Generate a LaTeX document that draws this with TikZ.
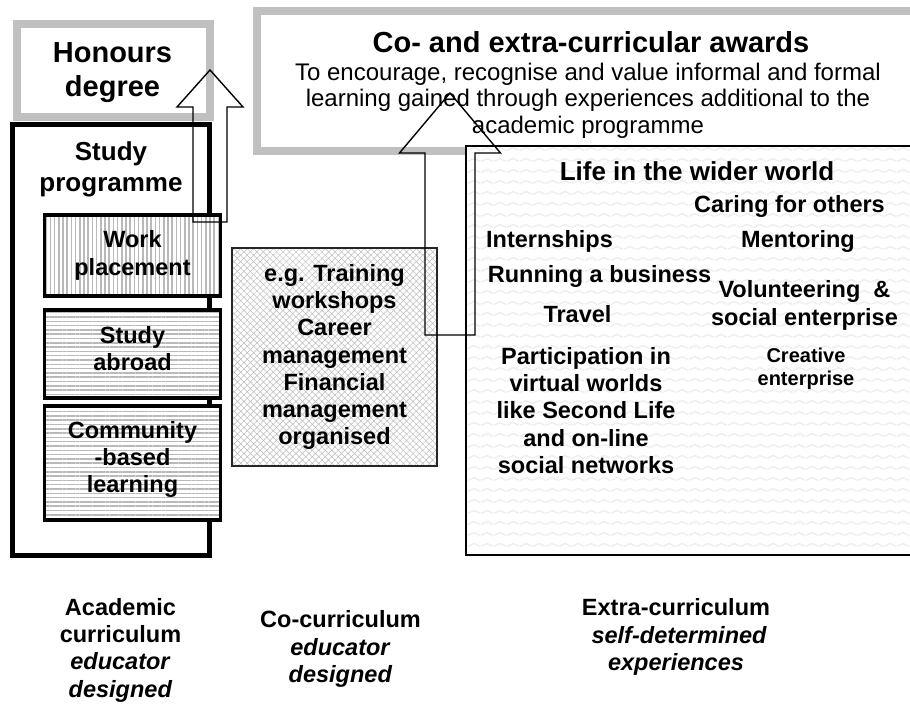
\documentclass[tikz,border=0pt]{standalone}
\usepackage{fontspec}
\setmainfont{Liberation Sans}
\usepackage{tikz}
\usetikzlibrary{calc, patterns, patterns.meta}

\definecolor{framegrey}{RGB}{192,192,192}
\definecolor{stripegrey}{RGB}{185,185,185}
\definecolor{hatchgrey}{RGB}{190,190,190}
\definecolor{wavegrey}{RGB}{238,238,238}

\pgfdeclarepatternformonly{wavy}{\pgfqpoint{0pt}{0pt}}{\pgfqpoint{13pt}{11pt}}{\pgfqpoint{13pt}{11pt}}{%
    \pgfsetlinewidth{1.5pt}
    \pgfpathmoveto{\pgfqpoint{0pt}{4pt}}
    \pgfpathlineto{\pgfqpoint{6.5pt}{7pt}}
    \pgfpathlineto{\pgfqpoint{13pt}{4pt}}
    \pgfusepath{stroke}}

\begin{document}
\begin{tikzpicture}[x = 1pt, y = -1pt,
                    grey_frame/.style = {draw = framegrey, line width = 8pt, fill = white},
                    prog_frame/.style = {draw = black, line width = 5pt},
                    sub_box/.style = {draw = black, line width = 3.5pt, preaction = {fill = white}},
                    vstripes/.style = {pattern = {Lines[angle = 90, distance = 4.2pt, line width = 1.5pt]}, pattern color = stripegrey},
                    hstripes/.style = {pattern = {Lines[angle = 0, distance = 4.3pt, line width = 1.5pt]}, pattern color = stripegrey},
                    hatch_box/.style = {draw = black!85, line width = 1.5pt, preaction = {fill = white}, pattern = {Hatch[angle = 45, distance = 4.6pt, line width = 0.5pt]}, pattern color = hatchgrey},
                    wave_box/.style = {draw = black, line width = 1.5pt, preaction = {fill = white}, pattern = wavy, pattern color = wavegrey},
                    block_arrow/.style = {draw = black, line width = 1.4pt, line join = miter},
                    head/.style = {align = center, inner sep = 0pt, font = \fontsize{29}{34}\selectfont\bfseries},
                    prog/.style = {align = center, inner sep = 0pt, font = \fontsize{26}{31}\selectfont\bfseries},
                    body/.style = {align = center, inner sep = 0pt, font = \fontsize{23.5}{27.3}\selectfont\bfseries},
                    small/.style = {align = center, inner sep = 0pt, font = \fontsize{20}{23}\selectfont\bfseries},
                    sub/.style = {align = center, inner sep = 0pt, font = \fontsize{24}{26.5}\selectfont}]
                    \useasboundingbox (0, 0) rectangle (910, 704);
                    \clip (0, 0) rectangle (910, 704);

                    \coordinate (hon_tl) at (17, 23.5);
                    \coordinate (hon_br) at (209.5, 116.5);
                    \coordinate (awd_tl) at (257, 11);
                    \coordinate (awd_br) at (925, 151);
                    \coordinate (prog_tl) at (12.5, 124.5);
                    \coordinate (prog_br) at (209, 555.5);
                    \coordinate (cocur_tl) at (232, 248);
                    \coordinate (cocur_br) at (437, 466);
                    \coordinate (life_tl) at (466, 146);
                    \coordinate (life_br) at (935, 555);

                    \draw[grey_frame] (awd_tl) rectangle (awd_br);
                    \draw[grey_frame] (hon_tl) rectangle (hon_br);
                    \draw[prog_frame] (prog_tl) rectangle (prog_br);

                    \draw[sub_box, vstripes] (44.5, 215) rectangle (220.5, 296);
                    \draw[sub_box, hstripes] (44.5, 310) rectangle (220.5, 398);
                    \draw[sub_box, hstripes] (44.5, 406) rectangle (220.5, 520);
                    \draw[hatch_box] (cocur_tl) rectangle (cocur_br);
                    \draw[wave_box] (life_tl) rectangle (life_br);

                    \node[head] (hon_txt) at (112.5, 72.7) {Honours\\degree};
                    \node[prog] (prog_txt) at (111, 169.8) {Study\\programme};
                    \node[body] (work_txt) at (132.5, 255.5) {Work\\placement};
                    \node[body] (abroad_txt) at (132.5, 348.5) {Study\\abroad};
                    \node[body] (comm_txt) at (132.5, 459.5) {Community\\-based\\learning};
                    \node[body] (cocur_txt) at (334.5, 357) {e.g. Training\\workshops\\Career\\management\\Financial\\management\\organised};

                    \node[head, anchor = base] (awd_title) at (591, 52) {Co- and extra-curricular awards};
                    \node[sub] (awd_txt) at (588, 100.3) {To encourage, recognise and value informal and formal\\learning gained through experiences additional to the\\academic programme};

                    \node[prog, anchor = base] (life_title) at (697, 180) {Life in the wider world};
                    \node[body, anchor = base] (caring) at (789.5, 212) {Caring for others};
                    \node[body, anchor = base] (intern) at (549.5, 247) {Internships};
                    \node[body, anchor = base] (mentor) at (798, 247) {Mentoring};
                    \node[body, anchor = base] (business) at (599.5, 282) {Running a business};
                    \node[body] (volunteer) at (804.5, 305.5) {Volunteering~~\&\\social enterprise};
                    \node[body, anchor = base] (travel) at (577.5, 322) {Travel};
                    \node[body] (virtual) at (586, 410.5) {Participation in\\virtual worlds\\like Second Life\\and on-line\\social networks};
                    \node[small] (creative) at (806, 368.5) {Creative\\enterprise};

                    \node[body] (acad_lbl) at (120.5, 650) {Academic\\curriculum\\\textit{educator}\\\textit{designed}};
                    \node[body] (cocur_lbl) at (340.5, 649) {Co-curriculum\\\textit{educator}\\\textit{designed}};
                    \node[body] (extra_lbl) at (676, 637) {Extra-curriculum\\\textit{~self-determined}\\\textit{experiences}};

                    \coordinate (arr_a_base) at (210, 222);
                    \coordinate (arr_a_tip) at (210, 70);
                    \draw[block_arrow] ($(arr_a_base)+(-17, 0)$) -- ($(arr_a_tip)+(-17, 37)$) -- ($(arr_a_tip)+(-33, 37)$) -- (arr_a_tip) -- ($(arr_a_tip)+(33, 37)$) -- ($(arr_a_tip)+(17, 37)$) -- ($(arr_a_base)+(17, 0)$) -- cycle;

                    \coordinate (arr_b_base) at (450, 335);
                    \coordinate (arr_b_tip) at (450, 93);
                    \draw[block_arrow] ($(arr_b_base)+(-25, 0)$) -- ($(arr_b_tip)+(-25, 60)$) -- ($(arr_b_tip)+(-50.5, 60)$) -- (arr_b_tip) -- ($(arr_b_tip)+(50.5, 60)$) -- ($(arr_b_tip)+(25, 60)$) -- ($(arr_b_base)+(25, 0)$) -- cycle;
                \end{tikzpicture}
\end{document}
